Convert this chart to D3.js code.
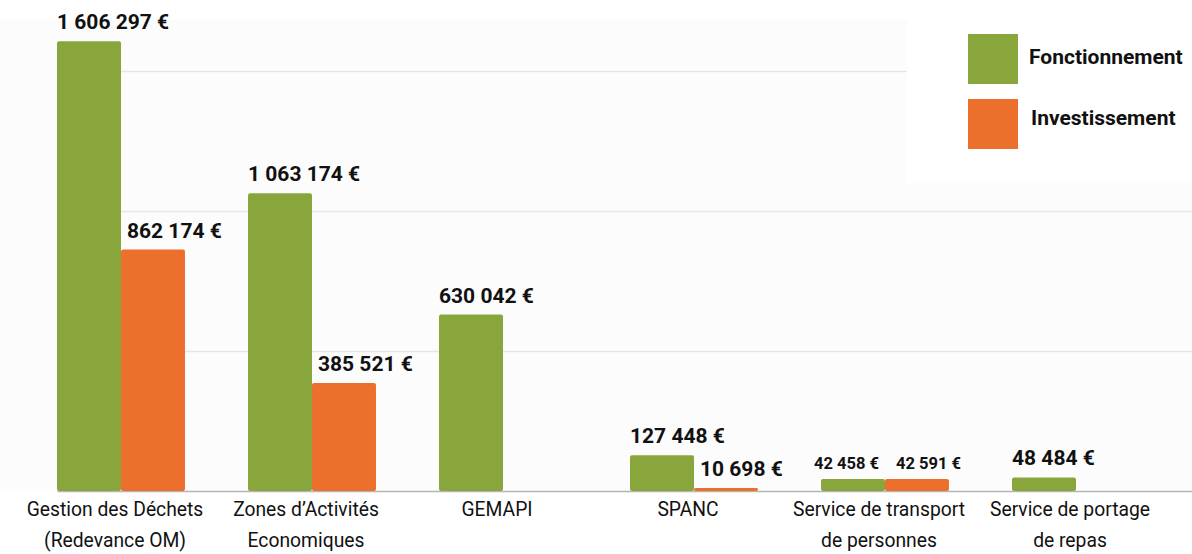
<!DOCTYPE html>
<html>
<head>
<meta charset="utf-8">
<script src="https://cdn.jsdelivr.net/npm/d3@7"></script>
<style>
  body { margin: 0; background: #fff; }
  svg { display: block; font-family: Roboto, "DejaVu Sans", sans-serif; }
</style>
</head>
<body>
<div id="chart"></div>
<script>
const categories = [
  ['Gestion des Déchets', '(Redevance OM)'],
  ['Zones d’Activités', 'Economiques'],
  ['GEMAPI'],
  ['SPANC'],
  ['Service de transport', 'de personnes'],
  ['Service de portage', 'de repas']
]
const fonctionnement = [1606297, 1063174, 630042, 127448, 42458, 48484]
const investissement = [862174, 385521, null, 10698, 42591, null]
const seriesNames = ['Fonctionnement', 'Investissement']
const gridTicks = [500000, 1000000, 1500000]

const W = 1192, H = 554
const baseY = 491
const colors = { Fonctionnement: '#89a63c', Investissement: '#ed6f2c' }

const locale = d3.formatLocale({ decimal: ',', thousands: ' ', grouping: [3], currency: ['', ' €'] })
const fmt = v => locale.format(',')(v) + ' €'

const svg = d3.select('#chart').append('svg').attr('width', W).attr('height', H)

// faint plot background
svg.append('rect').attr('x', 0).attr('y', 20).attr('width', W).attr('height', baseY - 20).attr('fill', '#fcfcfc')

const keys = categories.map(c => c.join(' '))
const x0 = d3.scaleBand().domain(keys).range([25.5, 1171.5]).paddingInner(0.33).paddingOuter(0.165)
const x1 = d3.scaleBand().domain(seriesNames).range([0, x0.bandwidth()])
const y = d3.scaleLinear().domain([0, 1500000]).range([baseY, 71])

// gridlines
const grid = svg.append('g').attr('transform', `translate(${x0(keys[0])},0)`)
d3.axisLeft(y).tickValues(gridTicks).tickSize(-(W - x0(keys[0]))).tickFormat('')(grid)
grid.select('.domain').remove()
grid.selectAll('.tick line').attr('stroke', '#e6e6e6').attr('stroke-width', 1.5)

// baseline
const axis = svg.append('g').attr('transform', `translate(0,${baseY})`)
d3.axisBottom(d3.scaleLinear().range([x0(keys[0]), W])).ticks(0).tickSizeOuter(0)(axis)
axis.select('.domain').attr('stroke', '#b5b5b5').attr('stroke-width', 1.5)

const rows = keys.map((k, i) => ({
  key: k,
  vals: [
    { s: 'Fonctionnement', v: fonctionnement[i] },
    { s: 'Investissement', v: investissement[i] }
  ].filter(d => d.v != null)
}))

const groups = svg.selectAll('.grp').data(rows).join('g')
  .attr('class', 'grp')
  .attr('transform', d => `translate(${x0(d.key)},0)`)

groups.selectAll('rect').data(d => d.vals).join('rect')
  .attr('x', d => x1(d.s))
  .attr('y', d => y(d.v))
  .attr('width', x1.bandwidth())
  .attr('height', d => baseY - y(d.v))
  .attr('rx', 2)
  .attr('fill', d => colors[d.s])

// value labels; smaller and pushed apart when both bars sit at nearly the same height
groups.each(function (d) {
  const tight = d.vals.length === 2 && Math.abs(y(d.vals[0].v) - y(d.vals[1].v)) < 25
  const bw = x1.bandwidth()
  d3.select(this).selectAll('text.val').data(d.vals).join('text')
    .attr('class', 'val')
    .attr('x', v => {
      if (tight) return v.s === 'Fonctionnement' ? x1(v.s) + bw - 6 : x1(v.s) + 11
      return x1(v.s) + (v.s === 'Investissement' ? 6 : 0)
    })
    .attr('y', v => y(v.v) - (tight ? 10 : 12))
    .attr('text-anchor', v => (tight && v.s === 'Fonctionnement' ? 'end' : 'start'))
    .attr('font-size', tight ? 16.5 : 21)
    .attr('font-weight', 700)
    .attr('fill', '#111')
    .text(v => fmt(v.v))
})

// category labels
const labels = svg.selectAll('.cat').data(categories).join('text')
  .attr('class', 'cat')
  .attr('x', (c, i) => x0(keys[i]) + x0.bandwidth() / 2 - 6)
  .attr('y', 516)
  .attr('text-anchor', 'middle')
  .attr('font-size', 19.3)
  .attr('fill', '#111')
labels.selectAll('tspan').data(c => c).join('tspan')
  .attr('x', function () { return d3.select(this.parentNode).attr('x') })
  .attr('dy', (t, j) => (j ? 31 : 0))
  .text(t => t)

// legend
svg.append('rect').attr('x', 907).attr('y', 0).attr('width', W - 907).attr('height', 183).attr('fill', '#fff')
const leg = svg.selectAll('.leg').data(seriesNames).join('g')
  .attr('class', 'leg')
  .attr('transform', (s, i) => `translate(968,${34 + i * 65})`)
leg.append('rect').attr('width', 50).attr('height', 50).attr('fill', s => colors[s])
leg.append('text')
  .attr('x', (s, i) => 61 + i * 2)
  .attr('y', (s, i) => 23 - i * 4)
  .attr('dy', '0.35em')
  .attr('font-size', 21)
  .attr('font-weight', 700)
  .attr('fill', '#111')
  .text(s => s)
</script>
</body>
</html>
